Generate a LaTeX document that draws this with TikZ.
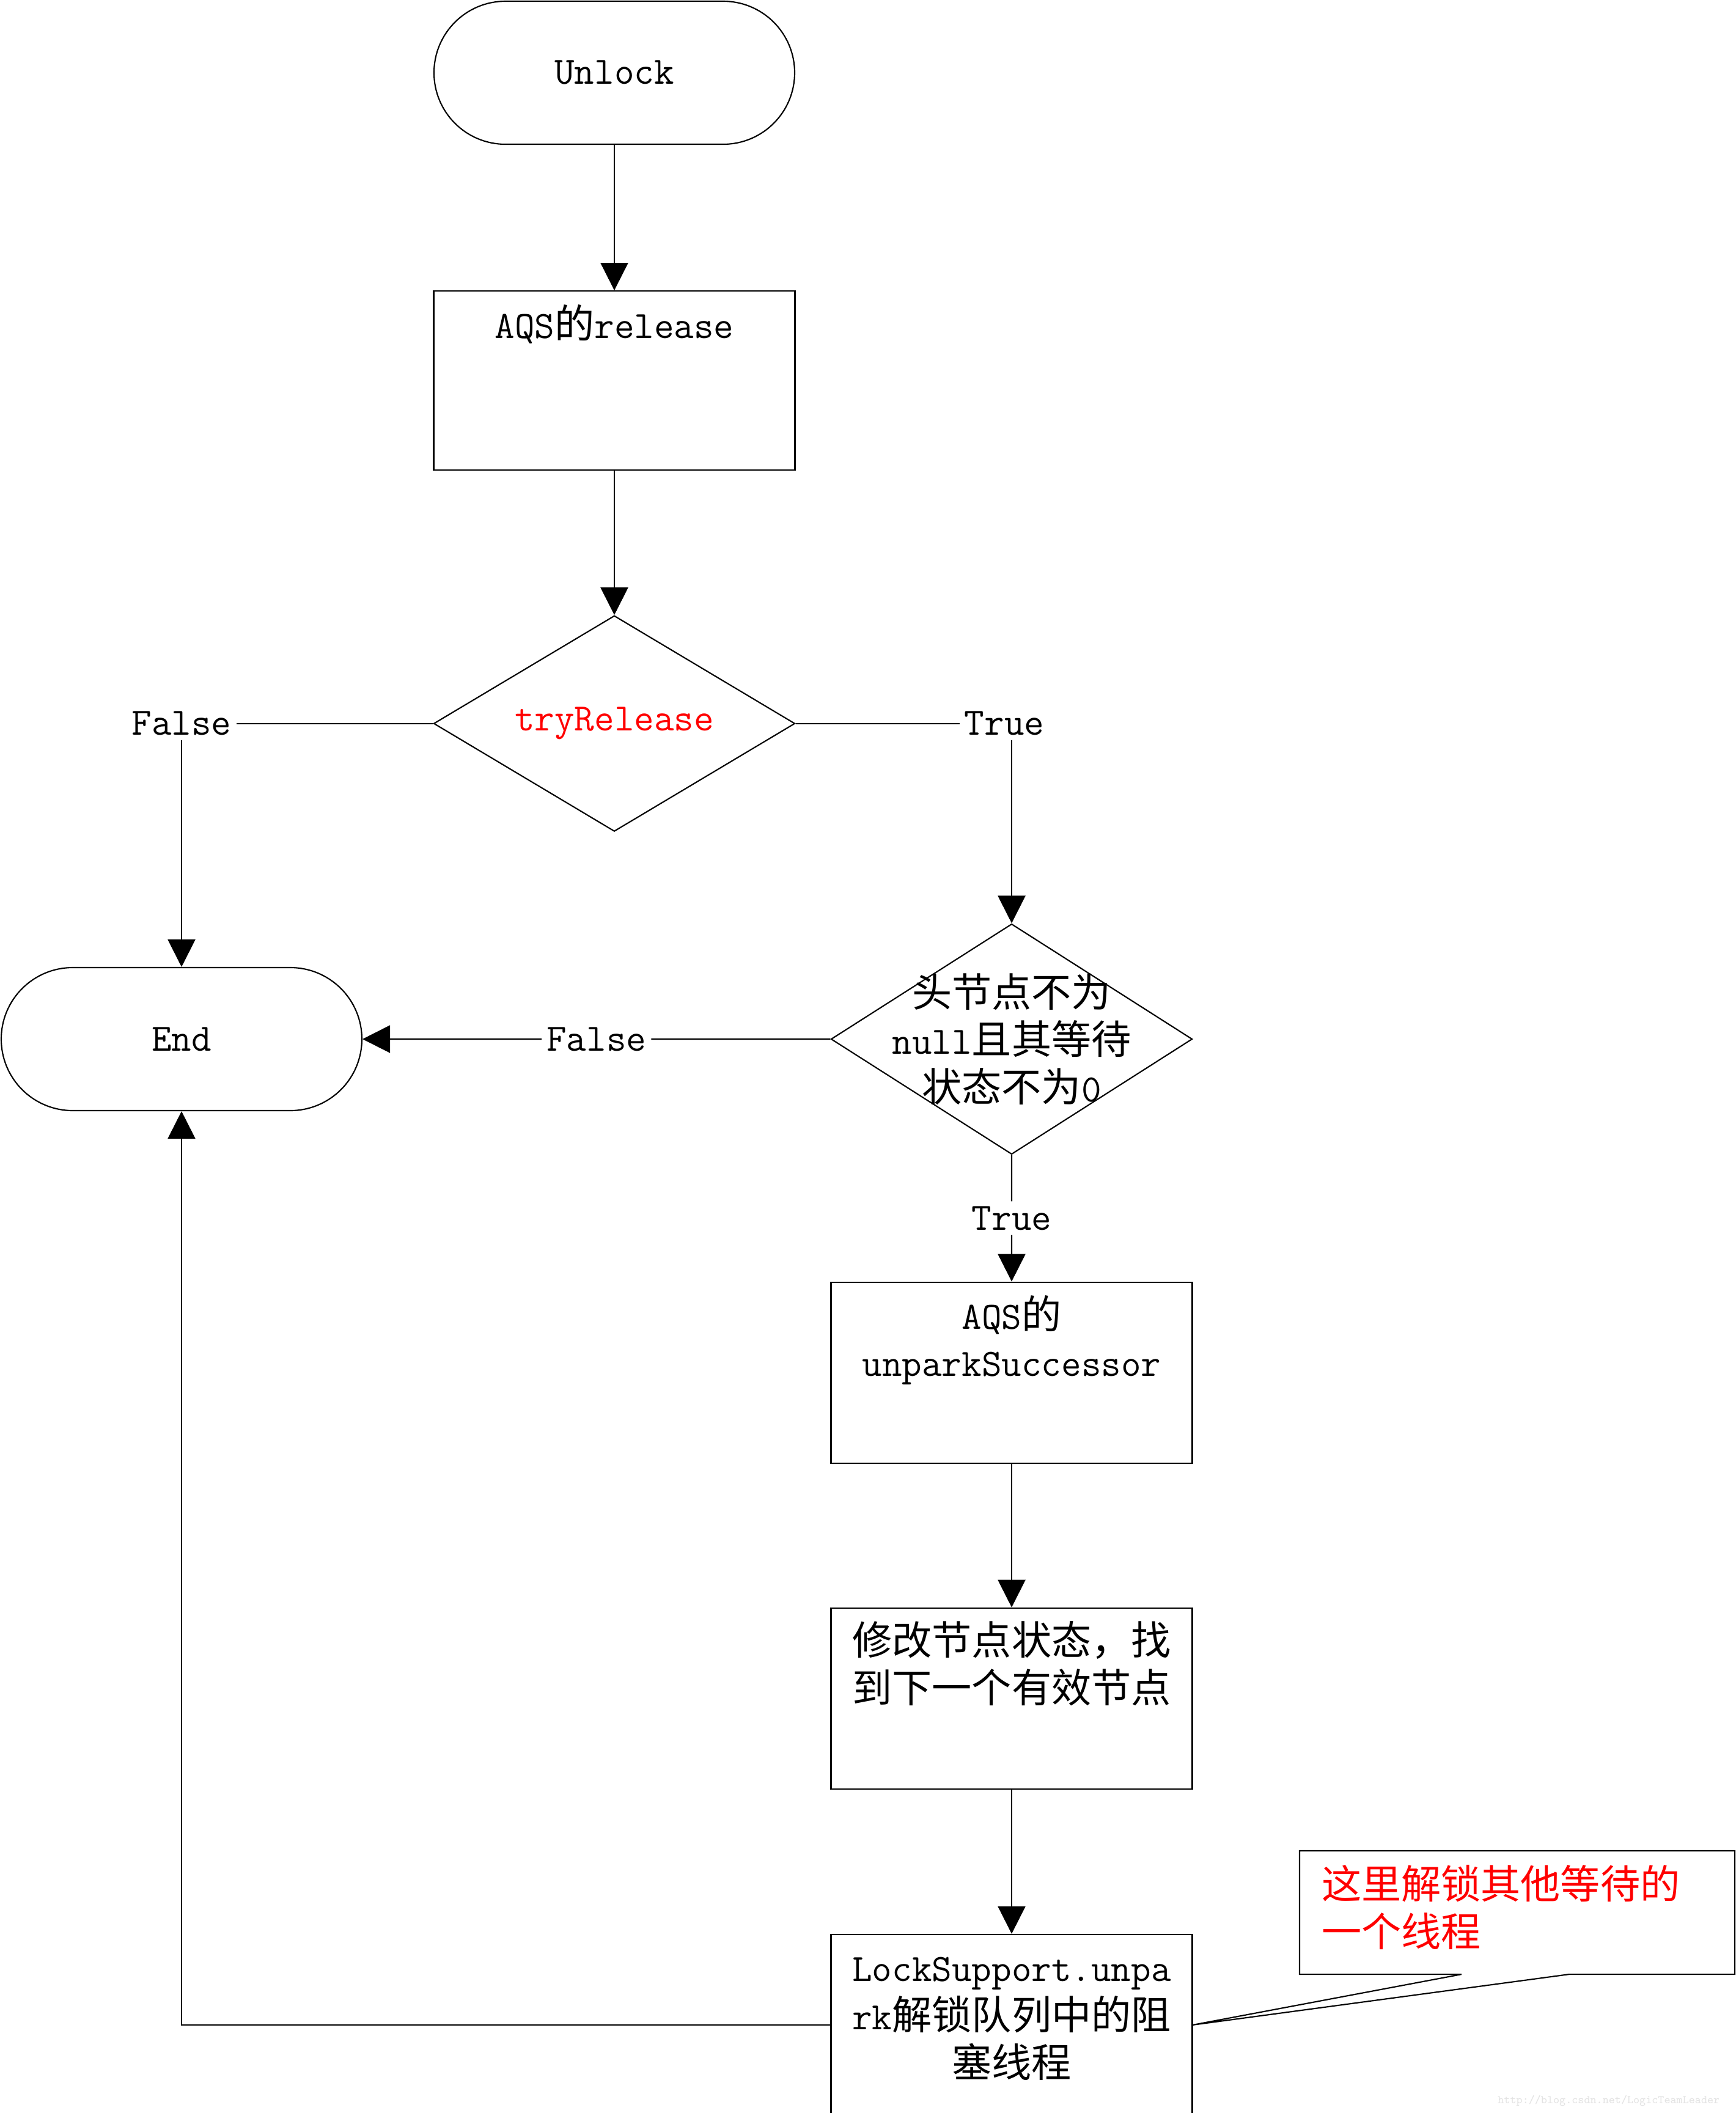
\documentclass[tikz,border=0pt]{standalone}
\usepackage{fontspec}
\usepackage{tikz}
\usetikzlibrary{positioning,arrows.meta,shapes.geometric,calc}
\newfontfamily\cjk[Scale=1.03]{Noto Sans CJK SC}
\newcommand{\zh}[1]{{\cjk #1}}
\newcommand{\bodyfont}{\fontsize{18pt}{22pt}\selectfont\ttfamily}
% lines hung from the first baseline
\newcommand{\toplines}[2][c]{\begin{tabular}[t]{@{}#1@{}}#2\end{tabular}}

\begin{document}
\begin{tikzpicture}[
        font=\bodyfont, line width=0.6pt,
        terminal/.style={draw, rounded corners=1.17cm, minimum width=5.90cm, minimum height=2.34cm},
        procbox/.style={draw, minimum width=5.91cm, inner ysep=0pt,
            text height=0.77cm, text depth=2.19cm},
        decision/.style={draw, diamond, inner sep=0pt, minimum width=5.91cm},
        branch/.style={inner sep=2pt},
        notebox/.style={inner xsep=0.35cm, inner ysep=0pt, text width=6.40cm,
            text height=0.77cm, text depth=1.23cm, text=red},
        flow/.style={-{Triangle[length=4.5mm, width=4.5mm]}}
    ]
    \useasboundingbox (0,0) rectangle (28.39,-34.57);
    % main column
    \node[terminal] (unlock) at (10.05,-1.19) {Unlock};
    \node[procbox, text depth=2.16cm, below=2.38cm of unlock] (release) {AQS\zh{的}release};
    \node[decision, minimum height=3.53cm, below=2.36cm of release] (d1) {};
    \node[text=red] (d1t) at (d1) {tryRelease};
    \node[terminal] (endn) at (2.97,-17.00) {End};
    \node[decision, minimum height=3.77cm] (d2) at (16.55,-17.00) {};
    \node[align=center] (d2t) at (d2) {\zh{头节点不为}\\null\zh{且其等待}\\\zh{状态不为}0};
    \node[procbox, below=2.07cm of d2] (unpark) {\toplines{AQS\zh{的}\\unparkSuccessor}};
    \node[procbox, below=2.35cm of unpark] (modify) {\toplines{\zh{修改节点状态，找}\\\zh{到下一个有效节点}}};
    \node[procbox, below=2.36cm of modify] (lock) {\toplines{LockSupport.unpa\\rk\zh{解锁队列中的阻}\\\zh{塞线程}}};
    % branch labels
    \node[branch] (false1) at (endn |- d1) {False};
    \node[branch] (true1) at ($(d1 -| d2)+(-0.12,0)$) {True};
    \node[branch] (false2) at ($(endn.east)!0.5!(d2.west)$) {False};
    \node[branch] (true2) at ($(d2.south)!0.5!(unpark.north)$) {True};
    % connectors
    \draw[flow] (unlock) -- (release);
    \draw[flow] (release) -- (d1);
    \draw (d1.west) -- (false1.east);
    \draw[flow] (false1.south) -- (endn.north);
    \draw (d1.east) -- (true1.west);
    \draw[flow] (true1.south -| d2.north) -- (d2.north);
    \draw (d2.west) -- (false2.east);
    \draw[flow] (false2.west) -- (endn.east);
    \draw (d2.south) -- (true2.north);
    \draw[flow] (true2.south) -- (unpark.north);
    \draw[flow] (unpark) -- (modify);
    \draw[flow] (modify) -- (lock);
    \draw[flow] (lock.west) -| (endn.south);
    % callout
    \node[notebox] (note) at (24.82,-31.29) {\toplines[l]{\zh{这里解锁其他等待的}\\\zh{一个线程}}};
    \draw (note.south west) -- (note.north west) -- (note.north east) -- (note.south east)
        -- ($(note.south west)+(4.41,0)$) -- (lock.east) -- ($(note.south west)+(2.65,0)$) -- cycle;
    \node[text=gray!22, font=\fontsize{5.4pt}{6pt}\selectfont\ttfamily, anchor=east] (mark)
        at (28.26,-34.37) {http://blog.csdn.net/LogicTeamLeader};
\end{tikzpicture}
\end{document}
